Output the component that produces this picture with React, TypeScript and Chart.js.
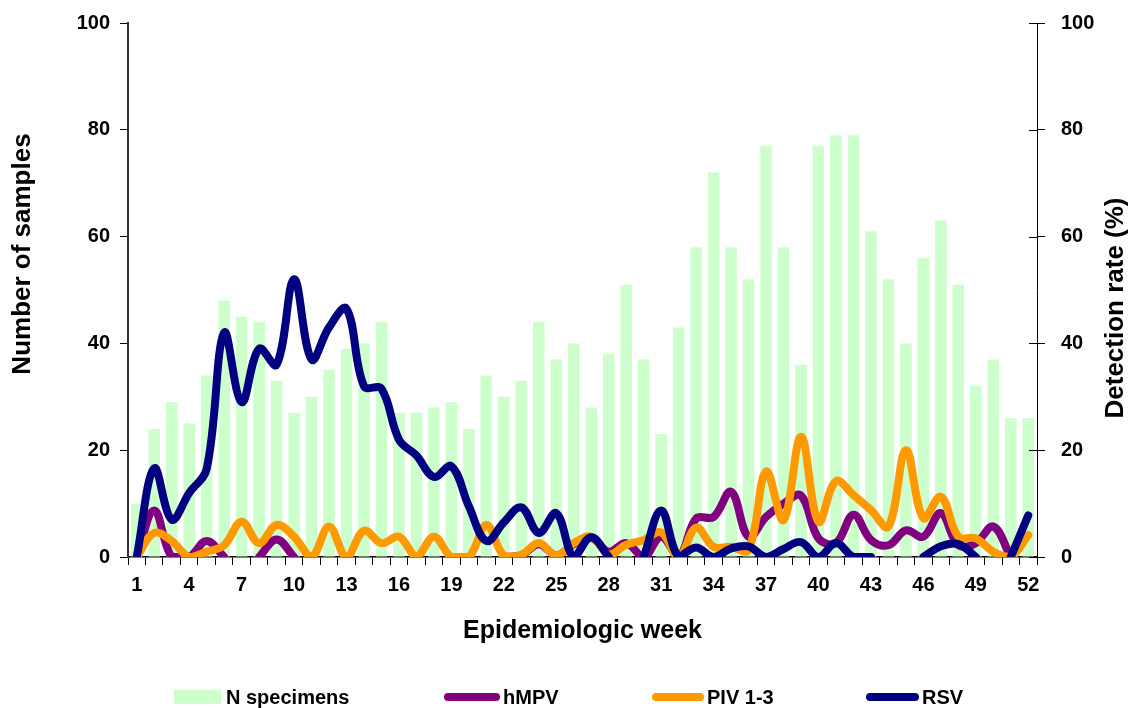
import { useEffect, useRef } from "react";
import { Chart, registerables } from "chart.js";

Chart.register(...registerables);

// Epidemiologic weeks of the year
const weeks = [
  "1", "2", "3", "4", "5", "6", "7", "8", "9", "10",
  "11", "12", "13", "14", "15", "16", "17", "18", "19", "20",
  "21", "22", "23", "24", "25", "26", "27", "28", "29", "30",
  "31", "32", "33", "34", "35", "36", "37", "38", "39", "40",
  "41", "42", "43", "44", "45", "46", "47", "48", "49", "50",
  "51", "52",
];

// Week labels printed under the axis
const shownWeeks = ["1", "4", "7", "10", "13", "16", "19", "22", "25", "28", "31", "34", "37", "40", "43", "46", "49", "52"];

// Number of specimens tested per week (left axis)
const nSpecimens = [
  10, 24, 29, 25, 34, 48, 45, 44, 33, 27,
  30, 35, 39, 40, 44, 27, 27, 28, 29, 24,
  34, 30, 33, 44, 37, 40, 28, 38, 51, 37,
  23, 43, 58, 72, 58, 52, 77, 58, 36, 77,
  79, 79, 61, 52, 40, 56, 63, 51, 32, 37,
  26, 26,
];

// Detection rates in % (right axis); null = no value for that week
const hmpvRate = [
  0, 8.7, 0, 0, 3, 0, null, 0, 3.3, 0,
  null, null, null, null, null, null, null, null, null, null,
  null, 0, 0.3, 2.4, 0.3, 2.4, 3.6, 1, 2.6, 0,
  3.8, 0, 7.2, 7.5, 12.2, 3.8, 7.5, 10, 11.5, 3.5,
  2.6, 7.9, 3.2, 2.2, 5, 3.8, 8.2, 2.2, 2.6, 5.7,
  0, null,
];

const pivRate = [
  0, 4.5, 3, 0, 1, 2.2, 6.6, 2.6, 6, 3.8,
  0, 5.7, 0, 4.9, 2.6, 3.8, 0.2, 3.8, 0, 0,
  6, 0.3, 0.4, 2.6, 0.3, 2.6, 3.8, 0.5, 2.3, 3.2,
  4.6, 0, 5.5, 1.9, 1.9, 1.3, 16, 6.9, 22.5, 6.6,
  14.2, 11.6, 8.8, 5.7, 20, 7.3, 11.3, 3.8, 3.5, 1,
  0, 4.1,
];

const rsvRate = [
  0, 16.6, 7, 12, 16.5, 42, 29, 39, 36, 52,
  37, 43, 46.5, 32, 31.5, 22, 19, 15, 17, 9.5,
  3, 6.5, 9.3, 4.5, 8.2, 0, 3.7, 0, null, 0,
  8.7, 0, 1.8, 0, 1.6, 2, 0, 1.5, 2.8, 0,
  2.6, 0, 0, null, null, 0, 2, 2.4, 0, null,
  0, 7.8,
];

const FONT = '"Liberation Sans", Arial, Helvetica, sans-serif';

// Axis titles, legend and the inner half of the right-axis tick marks
const decorations = {
  id: "decorations",
  afterDraw(chart: any) {
    const { ctx, chartArea } = chart;
    ctx.save();

    const yR = chart.scales.y1;
    ctx.strokeStyle = "#000";
    ctx.lineWidth = 1;
    yR.ticks.forEach((t: any) => {
      const py = Math.round(yR.getPixelForValue(t.value)) + 0.5;
      ctx.beginPath();
      ctx.moveTo(chartArea.right - 8, py);
      ctx.lineTo(chartArea.right, py);
      ctx.stroke();
    });

    ctx.fillStyle = "#000";
    ctx.textAlign = "center";
    ctx.textBaseline = "middle";
    ctx.font = `bold 25px ${FONT}`;
    ctx.fillText("Epidemiologic week", (chartArea.left + chartArea.right) / 2, 631);

    ctx.font = `bold 26px ${FONT}`;
    ctx.save();
    ctx.translate(23, 254);
    ctx.rotate(-Math.PI / 2);
    ctx.fillText("Number of samples", 0, 0);
    ctx.restore();

    ctx.save();
    ctx.translate(1116, 308);
    ctx.rotate(-Math.PI / 2);
    ctx.fillText("Detection rate (%)", 0, 0);
    ctx.restore();

    // legend row
    const ds = chart.data.datasets;
    const rowY = 697;
    const slots = [
      { x0: 174, x1: 221 },
      { x0: 448, x1: 496 },
      { x0: 656, x1: 700 },
      { x0: 870, x1: 915 },
    ];
    ctx.font = `bold 20px ${FONT}`;
    ctx.textAlign = "left";
    ctx.textBaseline = "middle";
    ds.forEach((d: any, i: number) => {
      const s = slots[i];
      if (d.type === "bar") {
        ctx.fillStyle = d.backgroundColor;
        ctx.fillRect(s.x0, rowY - 7, s.x1 - s.x0, 14);
      } else {
        ctx.strokeStyle = d.borderColor;
        ctx.lineWidth = 8;
        ctx.lineCap = "round";
        ctx.beginPath();
        ctx.moveTo(s.x0, rowY);
        ctx.lineTo(s.x1, rowY);
        ctx.stroke();
      }
      ctx.fillStyle = "#000";
      ctx.fillText(d.label, s.x1 + (d.type === "bar" ? 5 : 7), rowY + 1);
    });

    ctx.restore();
  },
};

// Pin the vertical axes to a fixed width and drop their label overhang padding
const fixWidth = (w: number) => (s: any) => {
  s.width = w;
  s.paddingTop = 0;
  s.paddingBottom = 0;
};

export default function App() {
  const canvasRef = useRef<HTMLCanvasElement | null>(null);

  useEffect(() => {
    document.body.style.margin = "0";
    const canvas = canvasRef.current;
    if (!canvas) return;

    const tickFont = { family: FONT, size: 20, weight: "bold" as const };

    const lineStyle = {
      type: "line" as const,
      yAxisID: "y1",
      borderWidth: 8,
      pointRadius: 0,
      pointHoverRadius: 0,
      tension: 0.38,
      fill: false,
      spanGaps: false,
      borderCapStyle: "round" as const,
      borderJoinStyle: "round" as const,
    };

    const chart = new Chart(canvas, {
      type: "bar",
      data: {
        labels: weeks,
        datasets: [
          {
            type: "bar",
            label: "N specimens",
            data: nSpecimens,
            yAxisID: "y",
            backgroundColor: "#CCFFCC",
            barPercentage: 0.66,
            categoryPercentage: 1,
            order: 3,
          },
          { ...lineStyle, label: "hMPV", data: hmpvRate, borderColor: "#800080", order: 2 },
          { ...lineStyle, label: "PIV 1-3", data: pivRate, borderColor: "#FF9900", order: 1 },
          { ...lineStyle, label: "RSV", data: rsvRate, borderColor: "#000080", order: 0 },
        ] as any,
      },
      options: {
        responsive: false,
        animation: false,
        devicePixelRatio: 1,
        layout: { padding: { top: 23, left: 0, right: 0, bottom: 0 } },
        plugins: {
          legend: { display: false },
          tooltip: { enabled: false },
          title: { display: false },
        },
        scales: {
          x: {
            offset: true,
            grid: {
              offset: true,
              drawOnChartArea: false,
              drawTicks: true,
              tickLength: 8,
              color: "#000",
              tickColor: "#000",
            },
            border: { display: true, color: "#000", width: 1.5 },
            ticks: {
              autoSkip: false,
              maxRotation: 0,
              minRotation: 0,
              padding: 8,
              color: "#000",
              font: tickFont,
              callback: (_v: any, i: number) => (shownWeeks.includes(weeks[i]) ? weeks[i] : ""),
            },
            afterFit: (s: any) => {
              s.height = 151;
              s.paddingLeft = 0;
              s.paddingRight = 0;
            },
          },
          y: {
            position: "left",
            min: 0,
            max: 100,
            grid: { drawOnChartArea: false, drawTicks: true, tickLength: 8, color: "#000", tickColor: "#000" },
            border: { display: true, color: "#333", width: 2 },
            ticks: { stepSize: 20, padding: 10, color: "#000", font: tickFont },
            afterFit: fixWidth(128),
          },
          y1: {
            position: "right",
            min: 0,
            max: 100,
            grid: { drawOnChartArea: false, drawTicks: true, tickLength: 8, color: "#000", tickColor: "#000" },
            border: { display: true, color: "#000", width: 1 },
            ticks: { stepSize: 20, padding: 16, color: "#000", font: tickFont },
            afterFit: fixWidth(95),
          },
        },
      },
      plugins: [decorations],
    });

    return () => chart.destroy();
  }, []);

  return <canvas ref={canvasRef} width={1132} height={708} style={{ display: "block" }} />;
}
